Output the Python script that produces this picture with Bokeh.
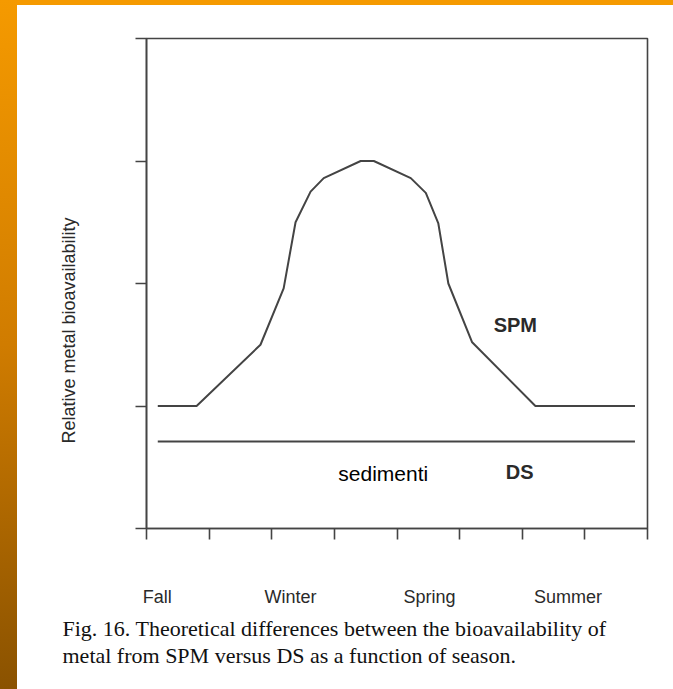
from bokeh.plotting import figure
from bokeh.models import FixedTicker, Label, Range1d, Title
from bokeh.embed import file_html
from bokeh.resources import INLINE

# ---- data (x in season-tick units 0..8, y in relative units 0..4) ----
spm_x = [0.18, 0.8, 1.82, 2.19, 2.38, 2.62, 2.83, 3.42, 3.63, 4.22, 4.46, 4.66, 4.82, 5.2, 6.21, 7.8]
spm_y = [1.0, 1.0, 1.5, 1.96, 2.5, 2.75, 2.86, 3.0, 3.0, 2.86, 2.74, 2.49, 2.0, 1.52, 1.0, 1.0]
ds_x = [0.18, 7.8]
ds_y = [0.71, 0.71]
season_labels = ["Fall", "Winter", "Spring", "Summer"]
season_pos = [0.17, 2.3, 4.52, 6.73]
x_ticks = [0, 1, 2, 3, 4, 5, 6, 7, 8]
y_ticks = [0, 1, 2, 3, 4]
y_title = "Relative metal bioavailability"
caption = ["Fig. 16. Theoretical differences between the bioavailability of",
           "metal from SPM versus DS as a function of season."]

LINE = "#444444"
SANS = "Liberation Sans"
SERIF = "Liberation Serif"

BG = ("linear-gradient(to bottom, #F59A00, #D07C00 50%, #8A5200) left top / 17px 100% no-repeat, "
      "linear-gradient(#F59A00, #F59A00) left top / 100% 5px no-repeat, #ffffff")

p = figure(width=673, height=689, output_backend="svg", toolbar_location=None,
           x_range=Range1d(0, 8), y_range=Range1d(0, 4),
           min_border_left=146, min_border_right=26, min_border_top=38, min_border_bottom=161,
           frame_width=501, frame_height=490,
           styles={"background": BG})
p.background_fill_color = "white"
p.border_fill_color = None
p.grid.visible = False
p.outline_line_color = LINE
p.outline_line_width = 1.6

# left axis: ticks only
ya = p.yaxis[0]
ya.ticker = FixedTicker(ticks=y_ticks)
ya.axis_line_color = LINE
ya.axis_line_width = 1.6
ya.major_tick_line_color = LINE
ya.major_tick_line_width = 1.6
ya.major_tick_out = 11
ya.major_tick_in = 0
ya.minor_tick_line_color = None
ya.major_label_text_font_size = "0px"
ya.major_label_text_alpha = 0
ya.major_label_standoff = 0

# bottom axis: minor ticks at season grid, labels at season positions
xa = p.xaxis[0]
xa.ticker = FixedTicker(ticks=season_pos, minor_ticks=x_ticks)
xa.major_label_overrides = {pos: lab for pos, lab in zip(season_pos, season_labels)}
xa.axis_line_color = LINE
xa.axis_line_width = 1.6
xa.major_tick_line_color = None
xa.major_tick_out = 0
xa.major_tick_in = 0
xa.minor_tick_line_color = LINE
xa.minor_tick_line_width = 1.6
xa.minor_tick_out = 11
xa.minor_tick_in = 0
xa.major_label_standoff = 47
xa.major_label_text_font = SANS
xa.major_label_text_font_size = "18px"
xa.major_label_text_color = "#2a2a2a"

# series
p.line(spm_x, spm_y, line_color=LINE, line_width=2)
p.line(ds_x, ds_y, line_color=LINE, line_width=2)

# in-plot labels
p.add_layout(Label(x=5.89, y=1.665, text="SPM", text_font=SANS, text_font_size="20px",
                   text_font_style="bold", text_color="#2a2a2a",
                   text_align="center", text_baseline="middle"))
p.add_layout(Label(x=5.96, y=0.465, text="DS", text_font=SANS, text_font_size="20px",
                   text_font_style="bold", text_color="#2a2a2a",
                   text_align="center", text_baseline="middle"))
p.add_layout(Label(x=3.78, y=0.449, text="sedimenti", text_font=SANS, text_font_size="21px",
                   text_color="#000000", text_align="center", text_baseline="middle"))

# y title (outside frame)
p.add_layout(Title(text=y_title, align="left", offset=85, standoff=113, text_font=SANS,
                   text_font_size="18px", text_font_style="normal", text_color="#2a2a2a"), "left")

# caption (below)
for line, so in zip(caption, [8, -8]):
    p.add_layout(Title(text=line, align="left", offset=-84, standoff=so, text_font=SERIF,
                       text_font_size="22px", text_font_style="normal",
                       text_color="#111111"), "below")

open("out.html", "w").write(file_html(p, INLINE))
